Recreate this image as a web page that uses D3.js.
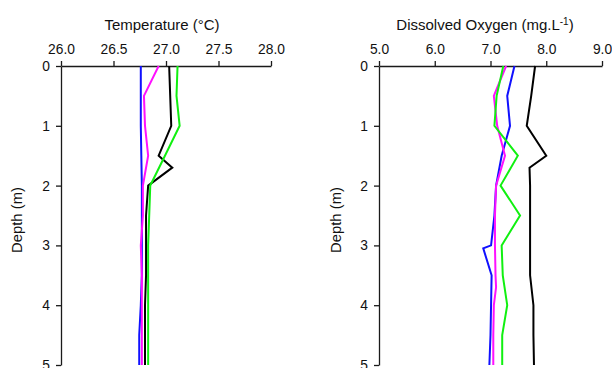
<!DOCTYPE html>
<html><head><meta charset="utf-8">
<script src="https://cdn.jsdelivr.net/npm/d3@7"></script>
<style>
body{margin:0;background:#fff;}
svg{display:block;font-family:"Liberation Sans",Arial,sans-serif;}
</style></head><body>
<svg id="c" width="612" height="368"></svg>
<script>
// ---- Data ----
const depthTicks = [0,1,2,3,4,5];
const tempTicks = [26.0,26.5,27.0,27.5,28.0];
const doTicks = [5.0,6.0,7.0,8.0,9.0];
const seriesColors = ["#1010ff","#ff10ff","#000000","#10f010"];

// Temperature (°C) profiles
const tBlueDepth  = [0,0.5,1,1.5,2,2.5,3,3.5,4,4.5,5];
const tBlue       = [26.76,26.76,26.76,26.765,26.77,26.77,26.77,26.77,26.76,26.745,26.745];
const tPinkDepth  = [0,0.5,1,1.5,2,2.5,3,3.5,4,4.5,5];
const tPink       = [26.93,26.79,26.80,26.83,26.78,26.78,26.76,26.77,26.77,26.77,26.77];
const tBlackDepth = [0,0.5,1,1.5,1.7,2,2.5,3,3.5,4,4.5,5];
const tBlack      = [27.03,27.04,27.05,26.93,27.06,26.83,26.81,26.81,26.81,26.80,26.80,26.80];
const tGreenDepth = [0,0.5,1,1.5,2,2.5,3,3.5,4,4.5,5];
const tGreen      = [27.11,27.10,27.13,26.99,26.85,26.84,26.83,26.83,26.83,26.83,26.83];

// Dissolved oxygen (mg/L) profiles
const oBlueDepth  = [0,0.5,1,1.5,2,2.5,3,3.05,3.5,4,4.5,5];
const oBlue       = [7.43,7.30,7.35,7.20,7.10,7.07,7.01,6.87,7.02,7.01,7.00,6.98];
const oPinkDepth  = [0,0.5,1,1.5,2,2.5,3,3.5,3.7,4,4.5,5];
const oPink       = [7.28,7.06,7.12,7.26,7.10,7.08,7.08,7.09,7.10,7.06,7.05,7.05];
const oBlackDepth = [0,0.5,1,1.5,1.7,2,2.5,3,3.5,4,4.5,5];
const oBlack      = [7.80,7.73,7.65,8.00,7.70,7.71,7.71,7.71,7.71,7.77,7.77,7.78];
const oGreenDepth = [0,0.5,1,1.5,2,2.5,3,3.5,4,4.5,5];
const oGreen      = [7.23,7.11,7.07,7.49,7.18,7.53,7.20,7.22,7.30,7.21,7.21];

const svg = d3.select("#c");
const axisColor = "#1a1a1a";
const textColor = "#111";

function panel(opts){
  const x = d3.scaleLinear().domain(opts.xDomain).range(opts.xRange);
  const y = d3.scaleLinear().domain([0,5]).range([66,365]);
  const g = svg.append("g");

  const xa = g.append("g").attr("transform",`translate(0,${y(0)})`)
    .call(d3.axisTop(x).tickValues(opts.xTicks).tickFormat(d3.format(".1f")).tickSize(5).tickSizeOuter(0).tickPadding(7));
  const ya = g.append("g").attr("transform",`translate(${x(opts.xDomain[0])},0)`)
    .call(d3.axisLeft(y).tickValues(depthTicks).tickFormat(d3.format("d")).tickSize(5).tickSizeOuter(0).tickPadding(6));
  [xa,ya].forEach(a=>{
    a.selectAll("path").attr("stroke",axisColor).attr("stroke-width",1.3);
    a.selectAll("line").attr("stroke",axisColor).attr("stroke-width",1.3);
    a.selectAll("text").attr("fill",textColor).style("font-size","13.8px").style("font-family","Liberation Sans, Arial, sans-serif");
  });

  const line = d3.line().x(d=>x(d[1])).y(d=>y(d[0]));
  opts.series.forEach((s,i)=>{
    const pts = s.depth.map((dd,k)=>[dd,s.vals[k]]);
    g.append("path").datum(pts).attr("d",line)
      .attr("fill","none").attr("stroke",seriesColors[i]).attr("stroke-width",2)
      .attr("stroke-linejoin","miter");
  });

  const t = g.append("text").attr("x",opts.titleX).attr("y",30)
    .attr("text-anchor","middle").attr("fill",textColor).style("font-size","15px");
  opts.title(t);
  g.append("text").attr("transform",`translate(${opts.yLabelX},220) rotate(-90)`)
    .attr("text-anchor","middle").attr("fill",textColor).style("font-size","14.8px")
    .text("Depth (m)");
}

panel({
  xDomain:[26,28], xRange:[61,271], xTicks:tempTicks, titleX:162, yLabelX:21.5,
  title:t=>t.text("Temperature (°C)"),
  series:[
    {depth:tBlueDepth,vals:tBlue},
    {depth:tPinkDepth,vals:tPink},
    {depth:tBlackDepth,vals:tBlack},
    {depth:tGreenDepth,vals:tGreen}
  ]
});

panel({
  xDomain:[5,9], xRange:[379,602], xTicks:doTicks, titleX:485, yLabelX:340.5,
  title:t=>{
    t.append("tspan").text("Dissolved Oxygen (mg.L");
    t.append("tspan").attr("dy",-5).style("font-size","10px").text("-1");
    t.append("tspan").attr("dy",5).text(")");
  },
  series:[
    {depth:oBlueDepth,vals:oBlue},
    {depth:oPinkDepth,vals:oPink},
    {depth:oBlackDepth,vals:oBlack},
    {depth:oGreenDepth,vals:oGreen}
  ]
});
</script>
</body></html>
